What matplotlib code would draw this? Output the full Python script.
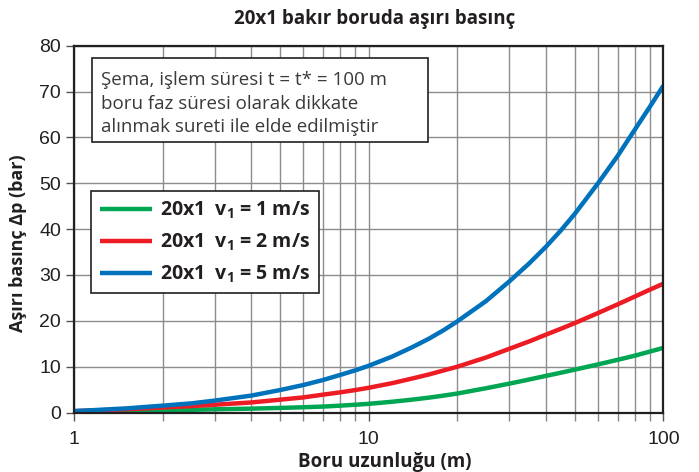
import numpy as np
import matplotlib
matplotlib.use('Agg')
from matplotlib import pyplot as plt
from matplotlib.patches import Rectangle

plt.rcParams['font.family'] = ['Open Sans', 'DejaVu Sans']
plt.rcParams['mathtext.fontset'] = 'custom'
plt.rcParams['mathtext.rm'] = 'Open Sans'
plt.rcParams['mathtext.bf'] = 'Open Sans:bold'

# Boru uzunlugu (m) ve grafikten okunan basinc degerleri (bar)
length = [1, 1.5, 2, 2.5, 3, 4, 5, 6, 7, 8, 9, 10, 12, 14, 16, 18, 20,
          25, 30, 35, 40, 45, 50, 60, 70, 80, 90, 100]
dp_v1 = [0.3, 0.4, 0.5, 0.6, 0.7, 0.85, 1.0, 1.15, 1.3, 1.5, 1.7, 1.9, 2.35, 2.8, 3.25, 3.7, 4.15,
         5.3, 6.3, 7.2, 8.0, 8.7, 9.35, 10.5, 11.5, 12.4, 13.3, 14.1]
dp_v2 = [0.3, 0.7, 1.1, 1.4, 1.7, 2.2, 2.8, 3.3, 3.9, 4.4, 4.9, 5.4, 6.4, 7.4, 8.3, 9.2, 10.0,
         12.0, 13.9, 15.5, 17.0, 18.3, 19.5, 21.7, 23.6, 25.3, 26.8, 28.1]
dp_v5 = [0.3, 0.9, 1.5, 2.0, 2.6, 3.7, 4.9, 6.0, 7.1, 8.2, 9.2, 10.2, 12.2, 14.2, 16.1, 18.0, 19.9,
         24.3, 28.6, 32.5, 36.2, 39.8, 43.3, 50.0, 56.0, 61.7, 66.7, 71.3]

labels = [r'20x1  $\mathbf{v_1}$ = 1 m/s', r'20x1  $\mathbf{v_1}$ = 2 m/s', r'20x1  $\mathbf{v_1}$ = 5 m/s']
colors = ['#00a651', '#ed1c24', '#0072bc']
note = 'Şema, işlem süresi t = t* = 100 m\nboru faz süresi olarak dikkate\nalınmak sureti ile elde edilmiştir'

fig = plt.figure(figsize=(6.99, 4.72), dpi=100)
ax = fig.add_axes([0.106, 0.126, 0.843, 0.777])

for y, lab, c in zip([dp_v1, dp_v2, dp_v5], labels, colors):
    ax.plot(length, y, color=c, lw=3.2, label=lab, solid_capstyle='butt')

ax.set_xscale('log')
ax.set_xlim(1, 100)
ax.set_ylim(0, 80)
ax.set_yticks(np.arange(0, 81, 10))
ax.set_xticks([1, 10, 100])
ax.set_xticklabels(['1', '10', '100'])

ax.grid(True, which='major', color='#8c8c8c', lw=1)
ax.grid(True, which='minor', axis='x', color='#8c8c8c', lw=1)
ax.set_axisbelow(True)

for s in ax.spines.values():
    s.set_color('#231f20')
    s.set_linewidth(1.6)

ax.tick_params(axis='both', which='major', direction='out', length=6, width=1,
               color='#555555', labelsize=14, labelcolor='#231f20')
ax.tick_params(axis='x', which='minor', direction='out', length=6, width=1, color='#888888')
ax.tick_params(axis='x', pad=7)
for t in ax.get_xticklabels() + ax.get_yticklabels():
    t.set_family('Liberation Sans')

ax.set_title('20x1 bakır boruda aşırı basınç', fontsize=13.5, fontweight='bold',
             color='#231f20', pad=16, x=0.51)
ax.set_xlabel('Boru uzunluğu (m)', fontsize=13.5, fontweight='bold', color='#231f20')
ax.xaxis.set_label_coords(0.528, -0.108)
ax.set_ylabel('Aşırı basınç Δp (bar)', fontsize=13, fontweight='bold', color='#231f20')
ax.yaxis.set_label_coords(-0.08, 0.463)

# not kutusu
ax.add_patch(Rectangle((0.030, 0.739), 0.5705, 0.2275, transform=ax.transAxes,
                       facecolor='white', edgecolor='#231f20', lw=1.2, zorder=5))
ax.text(0.046, 0.932, note, transform=ax.transAxes, ha='left', va='top', fontsize=13.5,
        color='#3a3a3a', linespacing=1.42, zorder=6)

leg = ax.legend(loc='upper left', bbox_to_anchor=(0.029, 0.605), borderaxespad=0,
                frameon=True, fancybox=False, edgecolor='#231f20', framealpha=1,
                handlelength=2.7, handletextpad=0.4, borderpad=0.45, labelspacing=0.55,
                prop={'size': 14, 'weight': 'bold'})
leg.get_frame().set_linewidth(1.2)
for t in leg.get_texts():
    t.set_color('#231f20')

fig.savefig('out.png', dpi=100)
